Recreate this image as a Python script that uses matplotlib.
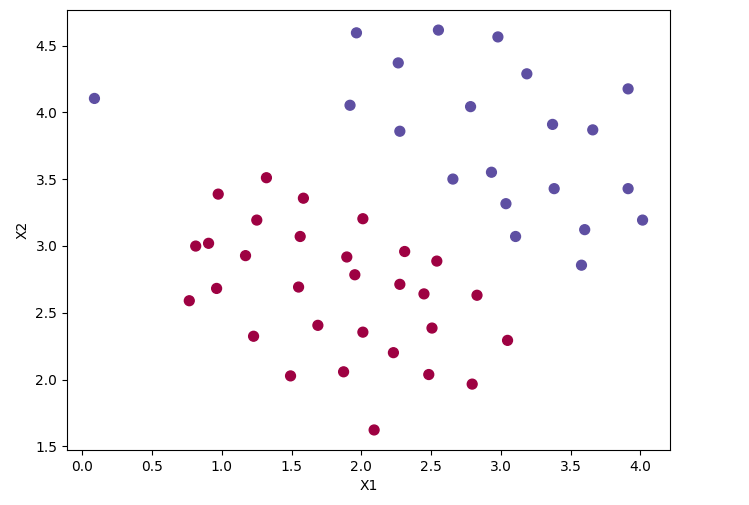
import numpy as np
import matplotlib
matplotlib.use('Agg')
import matplotlib.pyplot as plt

# Data points (X1, X2) and class labels
x1 = [1.9643, 2.2753, 2.9781, 2.9320, 3.5772, 4.0150, 3.3814, 3.9113, 2.7822, 2.5518,
      3.3698, 3.1048, 1.9182, 2.2638, 2.6555, 3.1855, 3.6579, 3.9113, 3.6002, 3.0357,
      1.5841, 2.0103, 1.9527, 2.2753, 2.3099, 2.8283, 3.0473, 2.4827, 2.5057, 1.8721,
      2.0103, 1.2269, 1.8951, 1.5610, 1.5495, 1.6878, 1.4919, 0.9620, 1.1693, 0.8122,
      0.9735, 1.2500, 1.3191, 2.2292, 2.4482, 2.7938, 2.0910, 2.5403, 0.9044, 0.76615,
      0.086405]
x2 = [4.5957, 3.8589, 4.5651, 3.5519, 2.8560, 3.1937, 3.4291, 4.1761, 4.0431, 4.6162,
      3.9101, 3.0709, 4.0534, 4.3706, 3.5008, 4.2888, 3.8692, 3.4291, 3.1221, 3.3165,
      3.3575, 3.2039, 2.7843, 2.7127, 2.9584, 2.6309, 2.2931, 2.0373, 2.3853, 2.0577,
      2.3546, 2.3239, 2.9174, 3.0709, 2.6923, 2.4057, 2.0271, 2.6820, 2.9276, 2.9992,
      3.3881, 3.1937, 3.5109, 2.2010, 2.6411, 1.9656, 1.6223, 2.8867, 3.0198, 2.5899,
      4.1045]
labels = [1] * 20 + [0] * 30 + [1]

fig = plt.figure(figsize=(7.49, 5.05), dpi=100)
ax = fig.add_axes([0.0895, 0.109, 0.805, 0.871])

ax.scatter(x1, x2, c=labels, s=50, cmap=plt.cm.Spectral)
ax.set_xlabel('X1')
ax.set_ylabel('X2')

fig.savefig('out.png', dpi=100)
